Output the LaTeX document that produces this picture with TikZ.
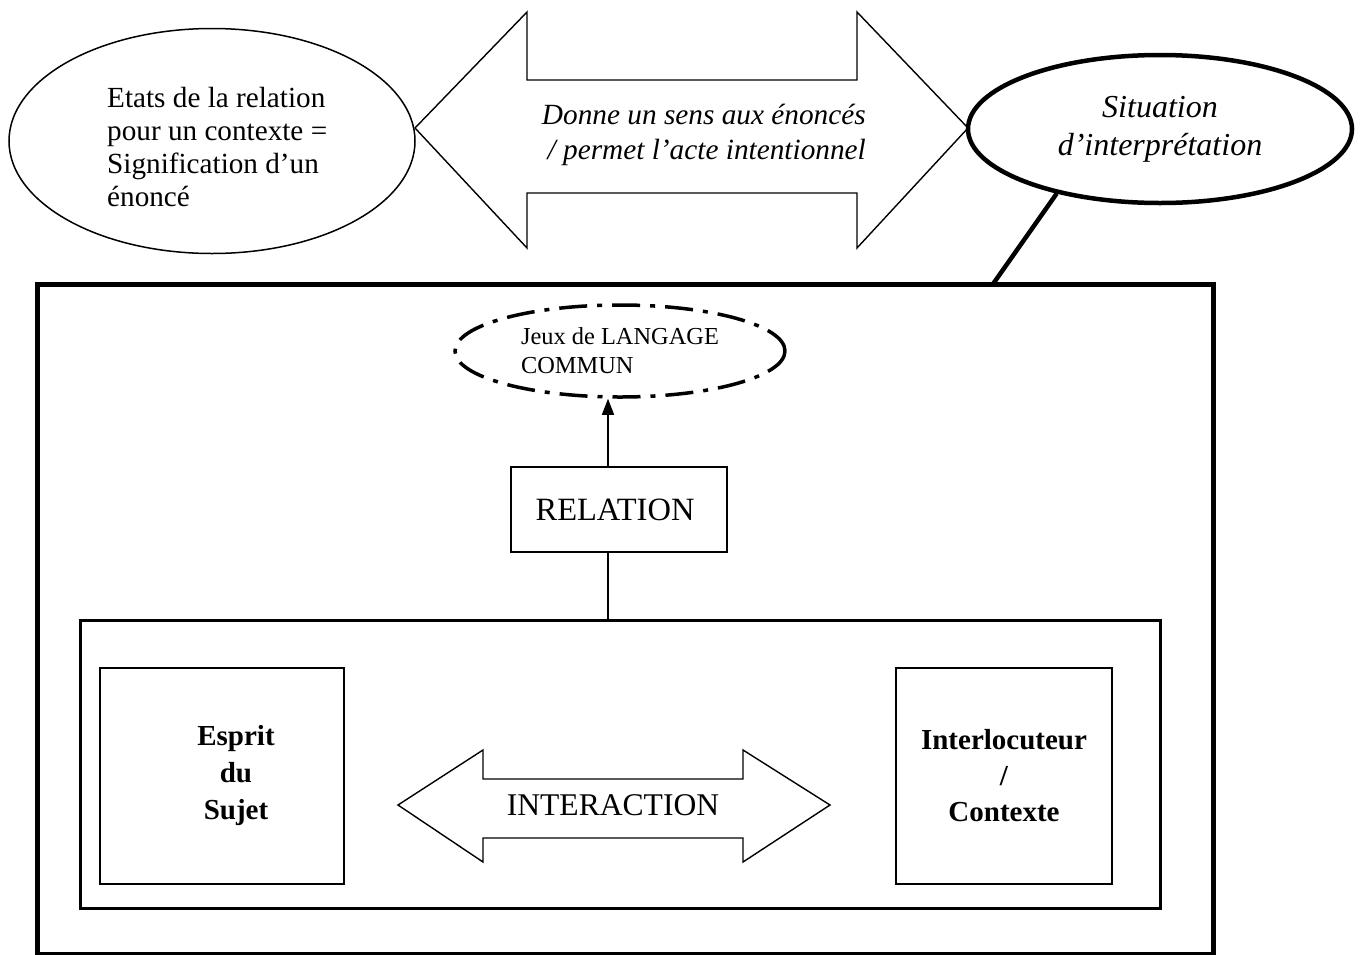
\documentclass[tikz,border=0pt]{standalone}
\usepackage{fontspec}
\setmainfont{Liberation Serif}
\usetikzlibrary{shapes.geometric,arrows.meta,calc}
\begin{document}
\begin{tikzpicture}[x=1pt,y=-1pt,
  thinline/.style={line width=1.5pt},
  shapeline/.style={line width=1.4pt, line join=miter},
  ellnode/.style={ellipse, draw, inner sep=0pt},
  boxnode/.style={rectangle, draw, inner sep=0pt},
]
\useasboundingbox (0,0) rectangle (1362,954);

% left ellipse
\node[ellnode, thinline, minimum width=406pt, minimum height=225pt] (etats) at (212,141) {};
\node[align=left, anchor=west, inner sep=0pt, font=\fontsize{29.2}{33}\selectfont] (etatstext) at (107,147)
  {Etats de la relation\\pour un contexte =\\Signification d’un\\énoncé};

% top double arrow
\draw[shapeline] (415,128) coordinate (ltip) -- (527,12) -- (527,80) -- (857,80) -- (857,12) -- (968,128) coordinate (rtip)
  -- (857,248) -- (857,193) -- (527,193) -- (527,248) -- cycle;
\node[align=right, anchor=east, font=\fontsize{29.3}{35}\selectfont\itshape, inner sep=0pt] (donne) at (866,135)
  {Donne un sens aux énoncés\\/ permet l’acte intentionnel};

% right ellipse
\node[ellnode, line width=4.5pt, minimum width=384pt, minimum height=148pt, align=center,
  font=\fontsize{32}{38}\selectfont\itshape] (sit) at (1160,129)
  {Situation\\d’interprétation};

% outer box
\node[boxnode, line width=5pt, minimum width=1176pt, minimum height=670pt] (outer) at (625,619) {};
\coordinate (otop) at (993,284);
\draw[line width=4.5pt] (sit.212) -- (otop);

% dash-dot ellipse
\node[ellnode, line width=3.5pt, dash pattern=on 28pt off 10pt on 5pt off 10pt,
  minimum width=330pt, minimum height=92pt, align=left, font=\fontsize{24.4}{29}\selectfont] (jeux) at (620,351)
  {Jeux de LANGAGE\\COMMUN};

% relation box
\node[boxnode, thinline, minimum width=216pt, minimum height=85pt, font=\fontsize{32.5}{36}\selectfont] (rel) at (619,509.5) {\hspace*{-8pt}RELATION};
\draw[thinline, -{Triangle[length=16pt,width=12pt]}] (rel.north -| 608,0) -- (jeux.south -| 608,0);

% inner box
\node[boxnode, line width=3pt, minimum width=1080pt, minimum height=288pt] (inner) at (620,764) {};
\draw[thinline] (rel.south -| 608,0) -- (inner.north -| 608,0);

% esprit box
\node[boxnode, thinline, minimum width=244pt, minimum height=216pt, align=center,
  font=\fontsize{29}{37}\selectfont\bfseries] (esprit) at (222,776) {\hspace*{28pt}Esprit\\\hspace*{28pt}du\\\hspace*{28pt}Sujet};
\node[boxnode, thinline, minimum width=216pt, minimum height=216pt, align=center,
  font=\fontsize{29}{36}\selectfont\bfseries] (inter) at (1004,776) {Interlocuteur\\/\\Contexte};

% interaction arrow
\draw[shapeline] (398,805) -- (483,750) -- (483,779) -- (743,779) -- (743,750) -- (830,805)
  -- (743,862) -- (743,838) -- (483,838) -- (483,862) -- cycle;
\node[font=\fontsize{31.6}{36}\selectfont, inner sep=0pt] (interaction) at (613,805) {INTERACTION};

\end{tikzpicture}
\end{document}
